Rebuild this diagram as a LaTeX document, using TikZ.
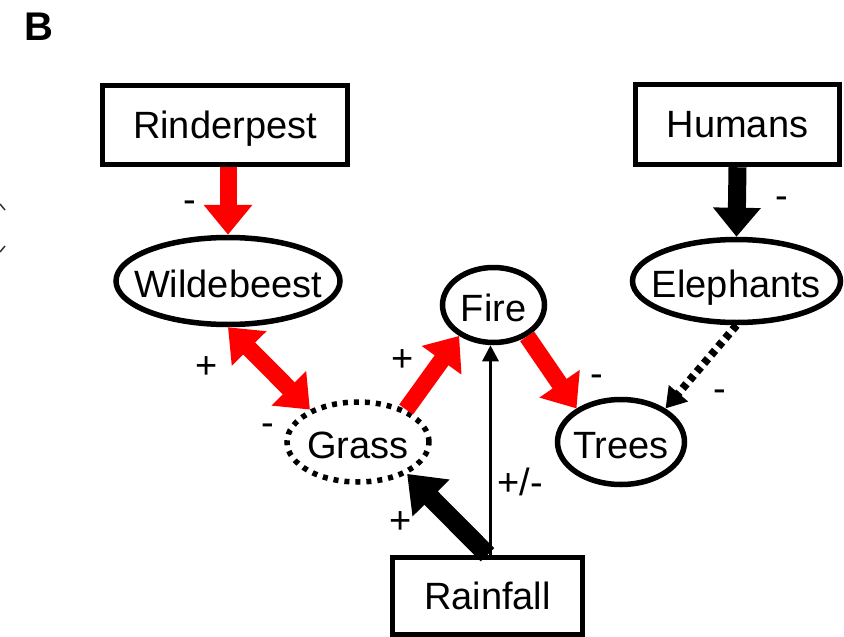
\documentclass[tikz,border=0pt]{standalone}
\usepackage{fontspec}
\setmainfont{Liberation Sans}
\usetikzlibrary{arrows.meta,shapes.geometric}
\begin{document}
\begin{tikzpicture}[x=1pt,y=-1pt,
 every node/.style={font=\fontsize{38pt}{40pt}\selectfont},
 boxnode/.style={draw, line width=5.5pt, rectangle, inner sep=0pt, text height=26pt, text depth=0pt},
 ellnode/.style={draw, line width=5.5pt, ellipse, inner sep=0pt, text height=32pt, text depth=0pt},
 dotell/.style={ellnode, dash pattern=on 5pt off 6pt},
 sign/.style={anchor=base, inner sep=0pt},
 redarr/.style={red, line width=17pt, -{Triangle[length=30pt,width=47pt]}},
 redboth/.style={red, line width=17pt, {Triangle[length=30pt,width=47pt]}-{Triangle[length=30pt,width=47pt]}},
 blackarr/.style={black, line width=18pt, -{Triangle[length=29pt,width=46pt]}},
 bigblack/.style={black, line width=19pt, -{Triangle[length=34pt,width=50pt]}},
 dotarr/.style={black, line width=8pt, dash pattern=on 6pt off 5pt, -{Triangle[length=20pt,width=24pt]}},
 thinarr/.style={black, line width=3pt, -{Triangle[length=16pt,width=16pt]}}
]
\useasboundingbox (0,0) rectangle (844,637);

\node[anchor=base west, inner sep=0pt, font=\fontsize{40pt}{42pt}\selectfont\bfseries] (panel) at (24,40) {B};

% fragment at the left edge
\draw[line width=1.5pt, black!80] (0,204) -- (5,210);
\draw[line width=1.5pt, black!80] (5,246) -- (0,252);

% boxes
\node[boxnode, minimum width=245pt, minimum height=79pt] (rind) at (225,125) {Rinderpest};
\node[boxnode, minimum width=204pt, minimum height=80pt] (hum) at (737.5,124.5) {Humans};
\node[boxnode, minimum width=190pt, minimum height=77pt] (rain) at (487.5,596) {Rainfall};

% ellipses
\node[ellnode, minimum width=224pt, minimum height=87pt] (wild) at (228,281) {\makebox[0pt][c]{Wildebeest}};
\node[ellnode, minimum width=102pt, minimum height=75pt] (fire) at (493.5,305) {\makebox[0pt][c]{Fire}};
\node[ellnode, minimum width=208pt, minimum height=83pt] (eleph) at (736.5,281) {\makebox[0pt][c]{Elephants}};
\node[ellnode, minimum width=127pt, minimum height=85pt] (trees) at (621,442) {\makebox[0pt][c]{Trees}};
\node[dotell, minimum width=142pt, minimum height=80pt] (grass) at (358,442) {\makebox[0pt][c]{Grass}};

% connectors
\draw[redarr] (rind.south -| wild.north) -- (wild.north);
\draw[blackarr] (hum.south) -- (eleph.north);
\draw[redboth] (wild.south) -- (grass.146);
\draw[redarr] (grass.34) -- (fire.222);
\draw[redarr] (fire.317) -- (trees.143);
\draw[dotarr] (eleph.south) -- (trees.37);
\draw[bigblack] (rain.north) -- (grass.327);
\coordinate (fb) at ([xshift=-3pt]fire.south);
\draw[thinarr] (fb |- rain.north) -- (fb);

% signs
\node[sign] (s1) at (190,212) {-};
\node[sign] (s2) at (782,208) {-};
\node[sign] (s3) at (207,378) {+};
\node[sign] (s4) at (268,435) {-};
\node[sign] (s5) at (403,371) {+};
\node[sign] (s6) at (597,386) {-};
\node[sign] (s7) at (720,401) {-};
\node[sign] (s8) at (520,495) {+/-};
\node[sign] (s9) at (401,533) {+};
\end{tikzpicture}
\end{document}
